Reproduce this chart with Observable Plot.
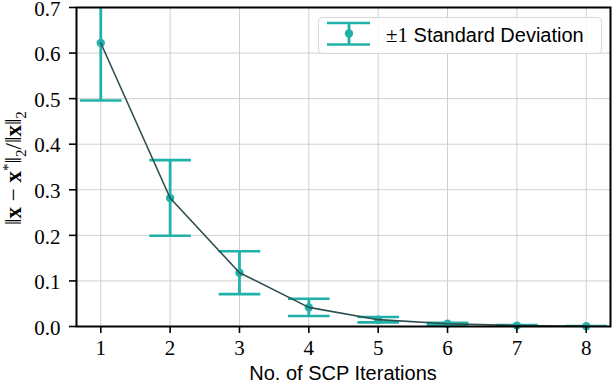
<!DOCTYPE html>
<html><head>
<meta charset="utf-8">
<script src="https://cdn.jsdelivr.net/npm/d3@7"></script>
<script src="https://cdn.jsdelivr.net/npm/@observablehq/plot@0.6"></script>
<style>body{margin:0;background:#fff}</style>
</head><body><div id="chart"></div>
<script>
const iterations = [1, 2, 3, 4, 5, 6, 7, 8];
const meanError = [0.622, 0.282, 0.118, 0.042, 0.015, 0.006, 0.002, 0.0005];
const stdError = [0.126, 0.083, 0.047, 0.019, 0.006, 0.002, 0.001, 0.0003];
const yTicks = [0, 0.1, 0.2, 0.3, 0.4, 0.5, 0.6, 0.7];
const xLabel = "No. of SCP Iterations";
const legendLabel = "Standard Deviation";

const data = iterations.map((x, i) => ({x, y: meanError[i], lo: meanError[i] - stdError[i], hi: meanError[i] + stdError[i]}));
const teal = "#20b2aa", slate = "#2f4f4f";
const capHalf = 0.3;
const serif = "'Liberation Serif', serif";
const sans = "'Liberation Sans', sans-serif";

const plot = Plot.plot({
  width: 612, height: 384,
  marginLeft: 76, marginRight: 2, marginTop: 7, marginBottom: 58,
  style: {fontFamily: serif, fontSize: "21px", color: "#000", background: "#fff"},
  x: {domain: [0.65, 8.35], label: null},
  y: {domain: [0, 0.7], label: null},
  marks: [
    Plot.gridX(iterations, {stroke: "#cfcfcf", strokeOpacity: 1}),
    Plot.gridY(yTicks, {stroke: "#cfcfcf", strokeOpacity: 1}),
    Plot.ruleX(data, {x: "x", y1: "lo", y2: "hi", stroke: teal, strokeWidth: 2.8, clip: true}),
    Plot.link(data, {x1: d => d.x - capHalf, x2: d => d.x + capHalf, y1: "lo", y2: "lo", stroke: teal, strokeWidth: 2.6, clip: true}),
    Plot.link(data, {x1: d => d.x - capHalf, x2: d => d.x + capHalf, y1: "hi", y2: "hi", stroke: teal, strokeWidth: 2.6, clip: true}),
    Plot.dot(data, {x: "x", y: "y", r: 4.2, fill: teal, stroke: "none"}),
    Plot.line(data, {x: "x", y: "y", curve: "linear", stroke: slate, strokeWidth: 1.6}),
    Plot.frame({stroke: "#000", strokeWidth: 2}),
    Plot.axisX(iterations, {tickSize: 7, tickPadding: 7, tickFormat: d => String(d), fontSize: 21, fontFamily: serif, strokeWidth: 1.6, label: null}),
    Plot.axisY(yTicks, {tickSize: 7, tickPadding: 9, tickFormat: d3.format(".1f"), fontSize: 21, fontFamily: serif, strokeWidth: 1.6, label: null})
  ]
});

const svg = d3.select(plot);
svg.selectAll("g[aria-label='x-axis tick label'], g[aria-label='y-axis tick label']")
  .attr("font-size", 21).style("font-size", "21px").style("font-family", serif);
// nudge y tick labels down 1px so the top label stays inside the picture
svg.selectAll("g[aria-label='y-axis tick label']").each(function() {
  const t = this.getAttribute("transform") || "";
  this.setAttribute("transform", (t + " translate(0,1.5)").trim());
});

// x-axis label
svg.append("text").attr("x", 343).attr("y", 380).attr("text-anchor", "middle")
  .style("font-family", sans).style("font-size", "20px").attr("fill", "#000").text(xLabel);

// y-axis label with bold vectors, superscript and subscripts
const ylab = svg.append("text")
  .attr("transform", "translate(21,168) rotate(-90)")
  .attr("text-anchor", "middle")
  .style("font-family", serif).style("font-size", "23px").attr("fill", "#000");
const parts = [
  ["‖", "n"], ["x", "b"], [" − ", "n"], ["x", "b"], ["*", "sup"], ["‖", "n"], ["2", "sub"],
  ["/‖", "n"], ["x", "b"], ["‖", "n"], ["2", "sub"]
];
let shift = 0;
for (const [t, k] of parts) {
  const target = k === "sup" ? -8 : k === "sub" ? 5 : 0;
  const ts = ylab.append("tspan").text(t).attr("dy", target - shift);
  shift = target;
  if (k === "b") ts.style("font-weight", "bold");
  if (k === "sup" || k === "sub") ts.style("font-size", "15px");
}

// legend
const lg = svg.append("g");
lg.append("rect").attr("x", 318.5).attr("y", 17.5).attr("width", 283).attr("height", 36).attr("rx", 4)
  .attr("fill", "#fff").attr("fill-opacity", 0.85).attr("stroke", "#d6d6d6").attr("stroke-width", 1);
lg.append("line").attr("x1", 327).attr("x2", 370).attr("y1", 23).attr("y2", 23).attr("stroke", teal).attr("stroke-width", 2.6);
lg.append("line").attr("x1", 327).attr("x2", 370).attr("y1", 44.5).attr("y2", 44.5).attr("stroke", teal).attr("stroke-width", 2.6);
lg.append("line").attr("x1", 349).attr("x2", 349).attr("y1", 23).attr("y2", 44.5).attr("stroke", teal).attr("stroke-width", 2.8);
lg.append("circle").attr("cx", 349).attr("cy", 33.5).attr("r", 4.2).attr("fill", teal);
const lt = lg.append("text").attr("x", 386).attr("y", 42).attr("text-anchor", "start").attr("fill", "#000").style("font-size", "20px");
lt.append("tspan").style("font-family", serif).style("font-size", "21px").text("±1");
lt.append("tspan").style("font-family", sans).text(" " + legendLabel);

document.getElementById("chart").appendChild(plot);
</script>
</body></html>
